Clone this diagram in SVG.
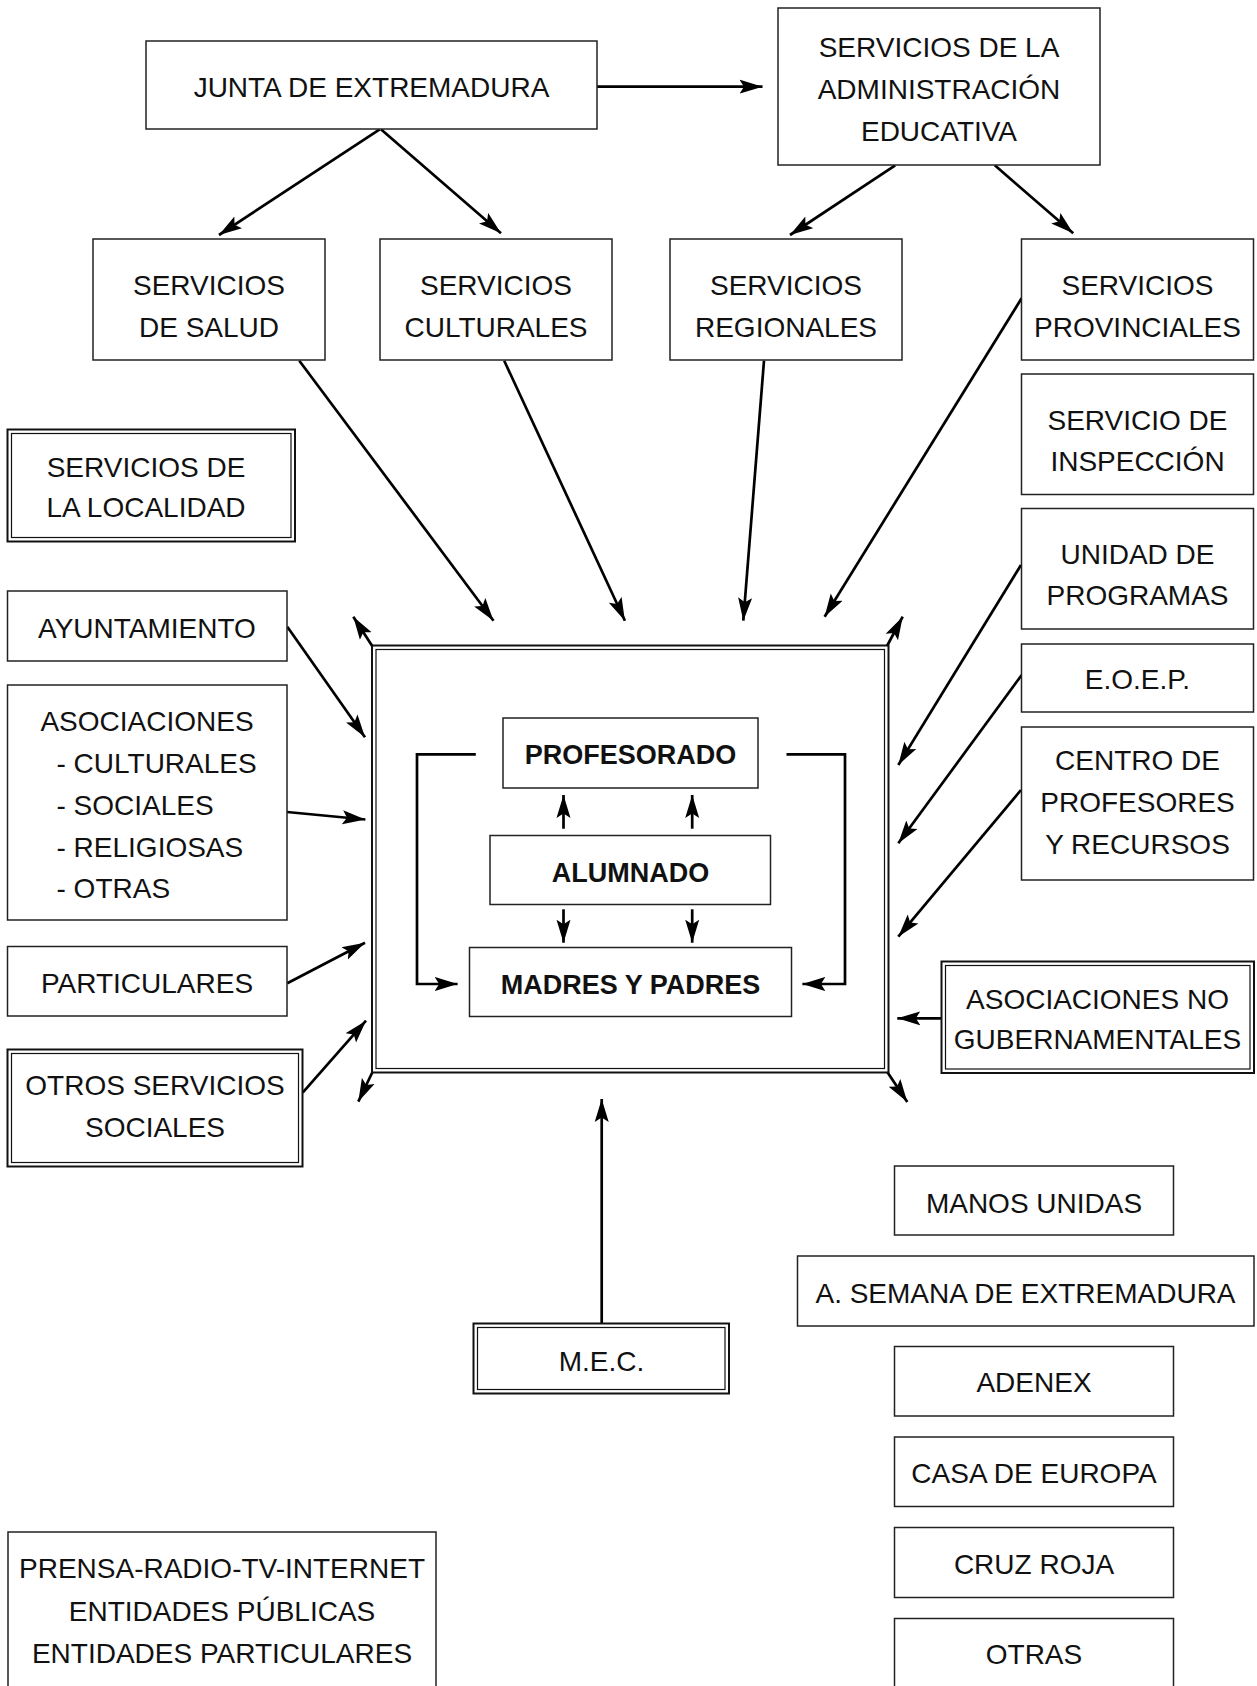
<svg xmlns="http://www.w3.org/2000/svg" width="1257" height="1686" viewBox="0 0 1257 1686">
<style>
.box{fill:#fff;stroke:#222;stroke-width:1.5}
.dbo{fill:#fff;stroke:#111;stroke-width:2}
.dbi{fill:none;stroke:#111;stroke-width:1.2}
.t{font-family:"Liberation Sans",Arial,sans-serif;font-size:28px;fill:#111;text-anchor:middle}
.l{text-anchor:start}
.b{font-weight:bold;font-size:27px}
.arr{fill:none;stroke:#000;stroke-width:2.7;marker-end:url(#ah)}
</style>
<defs>
<marker id="ah" markerUnits="userSpaceOnUse" markerWidth="26" markerHeight="16" viewBox="0 0 26 16" refX="23" refY="8" orient="auto">
<path d="M0,1 L23,8 L0,15 L4.5,8 Z" fill="#000"/>
</marker>
</defs>
<rect width="1257" height="1686" fill="#fff"/>

<g id="connectors">
<line class="arr" x1="597" y1="86.7" x2="762.5" y2="86.7"/>
<line class="arr" x1="379.7" y1="129.3" x2="219" y2="235"/>
<line class="arr" x1="380.9" y1="129.3" x2="501" y2="233.3"/>
<line class="arr" x1="895.2" y1="165.3" x2="790" y2="235"/>
<line class="arr" x1="994.8" y1="165.3" x2="1073.2" y2="233.3"/>
<line class="arr" x1="299.3" y1="360.7" x2="493.5" y2="620.7"/>
<line class="arr" x1="504.2" y1="360.7" x2="624.9" y2="620.7"/>
<line class="arr" x1="764" y1="360.7" x2="743.3" y2="620.7"/>
<line class="arr" x1="1021.6" y1="298.3" x2="824.6" y2="616.7"/>
<line class="arr" x1="372.7" y1="646.7" x2="353.3" y2="616.7"/>
<line class="arr" x1="887" y1="646" x2="902.7" y2="616.7"/>
<line class="arr" x1="372.5" y1="1072" x2="358.3" y2="1101.7"/>
<line class="arr" x1="887.3" y1="1072" x2="907.3" y2="1102"/>
<line class="arr" x1="287.3" y1="626.7" x2="365" y2="737.3"/>
<line class="arr" x1="287" y1="812" x2="365.4" y2="819.5"/>
<line class="arr" x1="287.3" y1="983.3" x2="365" y2="942.7"/>
<line class="arr" x1="302.7" y1="1092.7" x2="366" y2="1020.7"/>
<line class="arr" x1="1021" y1="565" x2="898.3" y2="765"/>
<line class="arr" x1="1021.7" y1="675" x2="898.3" y2="843.3"/>
<line class="arr" x1="1021" y1="790" x2="898.3" y2="936.7"/>
<line class="arr" x1="941.3" y1="1018.3" x2="897.3" y2="1018.3"/>
<line class="arr" x1="601.7" y1="1323.3" x2="601.7" y2="1099"/>
<polyline class="arr" points="475.8,754.3 417,754.3 417,984 457.6,984"/>
<polyline class="arr" points="786.5,754.3 845,754.3 845,984 802.4,984"/>
<line class="arr" x1="563.5" y1="828.7" x2="563.5" y2="795"/>
<line class="arr" x1="692.2" y1="828.7" x2="692.2" y2="795"/>
<line class="arr" x1="563.5" y1="909.3" x2="563.5" y2="942.7"/>
<line class="arr" x1="692.2" y1="909.3" x2="692.2" y2="942.7"/>
</g>

<g id="junta"><rect class="box" x="146" y="41" width="451" height="88"/><text class="t" x="371.5" y="97">JUNTA DE EXTREMADURA</text></g>
<g id="admin"><rect class="box" x="778" y="8" width="322" height="157"/><text class="t" x="939" y="57">SERVICIOS DE LA</text><text class="t" x="939" y="99">ADMINISTRACIÓN</text><text class="t" x="939" y="141">EDUCATIVA</text></g>
<g id="salud"><rect class="box" x="93" y="239" width="232" height="121"/><text class="t" x="209" y="295">SERVICIOS</text><text class="t" x="209" y="337">DE SALUD</text></g>
<g id="culturales"><rect class="box" x="380" y="239" width="232" height="121"/><text class="t" x="496" y="295">SERVICIOS</text><text class="t" x="496" y="337">CULTURALES</text></g>
<g id="regionales"><rect class="box" x="670" y="239" width="232" height="121"/><text class="t" x="786" y="295">SERVICIOS</text><text class="t" x="786" y="337">REGIONALES</text></g>
<g id="provinciales"><rect class="box" x="1021.5" y="239" width="232" height="121"/><text class="t" x="1137.5" y="295">SERVICIOS</text><text class="t" x="1137.5" y="337">PROVINCIALES</text></g>
<g id="inspeccion"><rect class="box" x="1021.5" y="374" width="232" height="120.5"/><text class="t" x="1137.5" y="429.5">SERVICIO DE</text><text class="t" x="1137.5" y="470.5">INSPECCIÓN</text></g>
<g id="unidad"><rect class="box" x="1021.5" y="508.5" width="232" height="120.5"/><text class="t" x="1137.5" y="564">UNIDAD DE</text><text class="t" x="1137.5" y="604.5">PROGRAMAS</text></g>
<g id="eoep"><rect class="box" x="1021.5" y="644" width="232" height="68"/><text class="t" x="1137.5" y="689">E.O.E.P.</text></g>
<g id="centro"><rect class="box" x="1021.5" y="727" width="232" height="153"/><text class="t" x="1137.5" y="770">CENTRO DE</text><text class="t" x="1137.5" y="812">PROFESORES</text><text class="t" x="1137.5" y="853.5">Y RECURSOS</text></g>
<g id="ong"><rect class="dbo" x="941.5" y="961.5" width="312.5" height="111.5"/><rect class="dbi" x="945.5" y="965.5" width="304.5" height="103.5"/><text class="t" x="1097.5" y="1008.5">ASOCIACIONES NO</text><text class="t" x="1097.5" y="1048.5">GUBERNAMENTALES</text></g>
<g id="manos"><rect class="box" x="894.5" y="1166" width="279" height="69"/><text class="t" x="1034" y="1213">MANOS UNIDAS</text></g>
<g id="semana"><rect class="box" x="797.5" y="1256" width="456.5" height="70"/><text class="t" x="1025.5" y="1303">A. SEMANA DE EXTREMADURA</text></g>
<g id="adenex"><rect class="box" x="894.5" y="1346.5" width="279" height="69.5"/><text class="t" x="1034" y="1392">ADENEX</text></g>
<g id="casa"><rect class="box" x="894.5" y="1437" width="279" height="69.5"/><text class="t" x="1034" y="1483">CASA DE EUROPA</text></g>
<g id="cruz"><rect class="box" x="894.5" y="1527.5" width="279" height="70"/><text class="t" x="1034" y="1574">CRUZ ROJA</text></g>
<g id="otras"><rect class="box" x="894.5" y="1618.5" width="279" height="80"/><text class="t" x="1034" y="1664">OTRAS</text></g>
<g id="prensa"><rect class="box" x="8" y="1532" width="428" height="170"/><text class="t" x="222" y="1578">PRENSA-RADIO-TV-INTERNET</text><text class="t" x="222" y="1620.5">ENTIDADES PÚBLICAS</text><text class="t" x="222" y="1662.5">ENTIDADES PARTICULARES</text></g>
<g id="mec"><rect class="dbo" x="473.5" y="1323.5" width="255.5" height="70"/><rect class="dbi" x="477.5" y="1327.5" width="247.5" height="62"/><text class="t" x="601.5" y="1371">M.E.C.</text></g>
<g id="localidad"><rect class="dbo" x="7.5" y="429.5" width="287.5" height="112"/><rect class="dbi" x="11.5" y="433.5" width="279.5" height="104"/><text class="t" x="146" y="477">SERVICIOS DE</text><text class="t" x="146" y="517">LA LOCALIDAD</text></g>
<g id="ayuntamiento"><rect class="box" x="7.5" y="591" width="279.5" height="70"/><text class="t" x="147" y="637.5">AYUNTAMIENTO</text></g>
<g id="asociaciones"><rect class="box" x="7.5" y="685" width="279.5" height="235"/><text class="t" x="147" y="731">ASOCIACIONES</text><text class="t l" x="56.5" y="773">- CULTURALES</text><text class="t l" x="56.5" y="815">- SOCIALES</text><text class="t l" x="56.5" y="857">- RELIGIOSAS</text><text class="t l" x="56.5" y="898">- OTRAS</text></g>
<g id="particulares"><rect class="box" x="7.5" y="946.5" width="279.5" height="69.5"/><text class="t" x="147" y="993">PARTICULARES</text></g>
<g id="otros"><rect class="dbo" x="7.5" y="1049.5" width="295" height="117"/><rect class="dbi" x="11.5" y="1053.5" width="287" height="109"/><text class="t" x="155" y="1095">OTROS SERVICIOS</text><text class="t" x="155" y="1137">SOCIALES</text></g>
<g id="centro-educativo"><rect class="dbo" x="372" y="645.5" width="516.5" height="427" style="fill:none"/><rect class="dbi" x="376" y="649.5" width="508.5" height="419"/></g>
<g id="profesorado"><rect class="box" x="503" y="718" width="255" height="70"/><text class="t b" x="630.5" y="763.5">PROFESORADO</text></g>
<g id="alumnado"><rect class="box" x="490" y="835.5" width="280.5" height="69"/><text class="t b" x="630.5" y="882">ALUMNADO</text></g>
<g id="madres"><rect class="box" x="469.5" y="947.5" width="322" height="69"/><text class="t b" x="630.5" y="993.5">MADRES Y PADRES</text></g>
</svg>
